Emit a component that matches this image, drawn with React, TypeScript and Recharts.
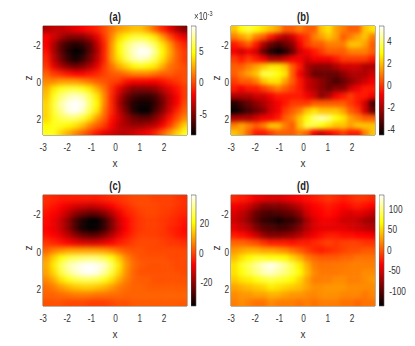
import React from "react";
import {
  Bar,
  BarChart,
  ReferenceArea,
  Scatter,
  ScatterChart,
  XAxis,
  YAxis,
} from "recharts";

const xCols = [-2.85, -2.55, -2.25, -1.95, -1.65, -1.35, -1.05, -0.75, -0.45, -0.15, 0.15, 0.45, 0.75, 1.05, 1.35, 1.65, 1.95, 2.25, 2.55, 2.85];
const zRows = [-2.85, -2.45, -2.05, -1.65, -1.25, -0.85, -0.45, -0.05, 0.35, 0.75, 1.15, 1.55, 1.95, 2.35, 2.75];
const xTicks = [-3, -2, -1, 0, 1, 2];
const zTicks = [-2, 0, 2];

// values in units of 1e-3
const valuesA = [
  [-4, -3.5, -3.5, -3, -2.5, -2, -1.5, -1, 0, 1, 2, 2.5, 3, 3, 2, 0.5, -1, -2.5, -4, -5],
  [-2, -3, -4, -5, -5, -5, -4, -2.5, -0.5, 1.5, 3.5, 4.5, 5.5, 5.5, 5, 4, 2, 0, -1.5, -2.5],
  [-2, -4, -6, -7, -7.5, -7, -6, -3.5, -1, 2, 4.5, 6.5, 7.5, 8, 7.5, 6, 4, 2, 0, -1],
  [-1.5, -4, -6, -7.5, -8.4, -8, -6, -4, -1, 2, 4.5, 6.5, 8, 8.9, 8.9, 7, 4.5, 2.5, 0.5, -0.5],
  [-1, -3.5, -5.5, -7, -8, -7, -5.5, -3.5, -1, 2, 4, 6, 7.5, 8, 7.5, 6, 4, 2, 0.5, -0.5],
  [-0.5, -2.5, -4, -5, -5.5, -5, -4, -2.5, -0.5, 1, 2.5, 3.5, 4.5, 5, 4.5, 4, 2.5, 1, 0.5, 0],
  [0.5, -0.5, -1, -1.5, -2, -2, -1.5, -1, -0.3, 0.3, 0.5, 1, 1.5, 1.5, 1.5, 1, 0.5, 0.5, 0, 0],
  [1.5, 1.5, 2, 2, 2, 1.5, 1, 0.5, 0.2, -0.2, -0.5, -1.5, -2, -2, -2, -2, -1.5, -1, -0.5, 0],
  [2.5, 4, 5, 5.5, 5.5, 5, 4, 2.5, 1, -0.8, -2.5, -4, -5, -5, -5, -4.5, -3.5, -2.5, -1.5, -0.5],
  [3, 5, 6.5, 7.5, 8, 7.5, 6, 4, 1.5, -1, -3.5, -5.5, -6.5, -7, -7, -6.5, -5, -3.5, -2, -0.5],
  [3.5, 5.5, 7.5, 8.5, 8.9, 8.5, 6.5, 4.5, 1.5, -1, -4, -6, -7.5, -8, -8, -7, -5.5, -3.5, -2, 0],
  [3.5, 5.5, 7, 8.5, 8.9, 8, 6, 4, 1, -1, -3.5, -5.5, -7.5, -8.4, -8.4, -6.5, -5, -3, -1, 0.5],
  [3.5, 5, 6, 6.5, 6.5, 5.5, 4, 2, 0.5, -1.5, -3, -4.5, -5.5, -6, -6, -5, -3.5, -1.5, 0, 1.5],
  [4.5, 5, 5, 4.5, 4, 3, 1.5, 0.5, -0.5, -2, -3.5, -4, -4.5, -4.5, -4, -3.5, -2, -0.5, 1.5, 3.5],
  [5, 5, 3.5, 2.5, 1.5, 0.5, -0.5, -1.5, -2.5, -3, -3.5, -3.5, -3, -2.5, -2, -1, 0.5, 2, 3.5, 5],
];

const valuesB = [
  [2, 3, 3.5, 3, 2.5, 2, 1.5, 0.5, 0.5, 1, 0.5, 0.5, 2, 2.5, 1.5, 1, 0.5, 0.5, 2, 2.5],
  [1, 1.5, 2, 1, 0.5, -0.5, -1.5, -2, -1.5, -0.5, 0, 1, 1.5, 2, 1.5, 0.5, 1, 1.5, 2, 1],
  [-0.5, 0, 0.5, -0.5, -2, -3, -3.5, -3, -2.5, -1, 0, 0.5, 0.5, 1, 1, 1, 2, 2, 1.5, 0.5],
  [-1, -1.5, -1, -1.5, -3, -4, -4.5, -4, -3, -1.5, -1, -0.5, 0, 0.5, 0.5, 0.5, 1, 1, 1, 0.5],
  [0, -0.5, 0, -0.5, -1, -2, -2, -1.5, -1, -1, -1.5, -1, -1, -1, -0.5, 0, 0, 0, 0, -0.5],
  [0.5, 0.5, 1, 1.5, 2, 2.5, 2.5, 2, 0.5, -0.5, -2, -2.5, -2.5, -2.5, -2, -1.5, -1.5, -1.5, -2, -2],
  [0.5, 1, 1.5, 2, 3.5, 3.5, 3, 2.5, 0.5, -1, -2, -3, -3, -3, -3, -2.5, -2, -2, -2, -1.5],
  [0, 0.5, 0.5, 1, 2, 2.5, 2.5, 1.5, 0.5, -0.5, -1.5, -2, -2.5, -3, -3.5, -3, -2.5, -2, -1.5, -1],
  [-0.5, -1, -0.5, -0.5, 0, 0.5, 1, 0.5, 0, -0.5, -1.5, -2, -2.5, -3, -2.5, -2.5, -1.5, -1, -0.5, -0.5],
  [-2, -2, -2, -1.5, -1.5, -1, -0.5, -0.5, -0.5, -0.5, -1, -1.5, -2.5, -2, -1, -0.5, 0, -0.5, -0.5, -1],
  [-4, -3.5, -3, -2.5, -2, -1.5, -1, -0.5, 0, 0, 0, 0.5, 0.5, 0.5, 0.5, 0.5, 0, -0.5, -1.5, -3.5],
  [-4.5, -4, -3.5, -3, -2.5, -1.5, -1, 0, 0.5, 1, 2, 2.5, 2, 2, 2, 1.5, 0.5, 0, -1.5, -3],
  [-2, -2, -2, -1.5, -1, -1, -0.5, 0.5, 1, 2, 3, 4, 4.5, 4, 3, 2.5, 1.5, 1, 0.5, 0.5],
  [1, 1.5, 1, 0.5, 1, 2, 2, 1, 0.5, 2, 3.5, 3.5, 3, 2.5, 2, 2, 1.5, 2, 2, 2],
  [2, 1.5, 0.5, -0.5, -0.5, 0, 0.5, 0.5, 0.5, 1, 0.5, -1, -1.5, -1, -0.5, 0, -0.5, -0.5, 1, 2],
];

const valuesC = [
  [-3, -4, -5, -5, -5, -5, -5, -5, -4, -3, -2, -1, 0, 0, 0, -1, -1, -1, -2, -3],
  [-4, -6, -8, -10, -12, -13, -14, -13, -11, -8, -5, -3, -1, 0, 0, 0, -1, -1, -2, -3],
  [-6, -8, -11, -15, -20, -23, -25, -24, -21, -16, -10, -5, -3, -1, 0, 0, -1, -2, -3, -4],
  [-7, -10, -14, -20, -28, -33, -36, -36, -30, -22, -13, -8, -4, -2, -1, -1, -2, -3, -4, -6],
  [-8, -10, -14, -20, -28, -34, -36, -35, -30, -22, -14, -8, -4, -2, -1, -1, -2, -4, -5, -7],
  [-6, -8, -11, -15, -20, -24, -26, -25, -21, -16, -10, -6, -3, -1, -1, -1, -2, -3, -5, -6],
  [-2, -4, -6, -8, -10, -12, -12, -12, -10, -8, -5, -3, -1, 0, 0, 0, -1, -2, -2, -3],
  [3, 6, 8, 10, 10, 10, 10, 10, 9, 7, 4, 2, 1, 1, 0, 0, 0, 0, 0, 0],
  [9, 15, 21, 25, 27, 28, 29, 28, 26, 21, 14, 7, 3, 1, 1, 1, 1, 0, 0, 0],
  [11, 18, 27, 33, 36, 38, 39, 38, 35, 28, 18, 9, 4, 2, 1, 1, 1, 1, 0, 0],
  [10, 16, 25, 31, 35, 38, 39, 37, 32, 25, 16, 8, 3, 1, 1, 1, 1, 1, 1, 0],
  [7, 11, 17, 22, 25, 27, 27, 26, 22, 17, 11, 6, 3, 2, 2, 1, 1, 1, 1, 1],
  [4, 6, 9, 12, 14, 15, 15, 14, 12, 9, 6, 4, 3, 3, 2, 2, 2, 2, 2, 2],
  [3, 3, 4, 5, 6, 6, 6, 5, 5, 4, 4, 3, 3, 3, 3, 3, 3, 3, 3, 3],
  [1, 1, 1, 0, 0, 0, -1, -1, -1, 0, 1, 1, 2, 2, 2, 2, 2, 2, 2, 2],
];

const valuesD = [
  [-20, -25, -30, -40, -45, -50, -50, -45, -40, -35, -30, -25, -20, -15, -20, -25, -20, -15, -15, -20],
  [-40, -45, -55, -70, -85, -85, -85, -80, -70, -60, -45, -35, -30, -25, -30, -35, -30, -25, -30, -35],
  [-50, -60, -75, -95, -105, -110, -105, -100, -95, -80, -55, -40, -35, -30, -35, -45, -50, -45, -50, -60],
  [-55, -65, -80, -100, -115, -120, -130, -120, -115, -100, -70, -50, -40, -40, -45, -55, -55, -60, -70, -75],
  [-45, -55, -65, -85, -100, -105, -110, -110, -100, -85, -65, -50, -45, -45, -45, -45, -50, -55, -60, -65],
  [-25, -30, -40, -55, -75, -85, -85, -80, -75, -65, -50, -40, -30, -25, -25, -30, -30, -35, -35, -40],
  [5, 5, 0, -5, -15, -25, -25, -25, -30, -25, -25, -20, -15, -10, -15, -10, -10, -10, -15, -15],
  [25, 30, 35, 35, 30, 30, 25, 20, 10, 0, -10, -20, -25, -20, -15, -10, -5, -5, 0, 0],
  [40, 55, 65, 75, 75, 70, 70, 65, 50, 35, 15, 5, 0, 0, 0, 5, 5, 10, 10, 10],
  [55, 75, 90, 105, 120, 130, 120, 105, 85, 60, 35, 15, 10, 10, 12, 12, 15, 15, 15, 15],
  [55, 70, 85, 100, 115, 120, 110, 100, 85, 65, 40, 20, 12, 12, 12, 15, 15, 15, 20, 20],
  [45, 55, 60, 70, 80, 85, 80, 75, 65, 50, 30, 15, 15, 15, 20, 20, 15, 15, 20, 25],
  [30, 35, 40, 45, 50, 60, 55, 50, 45, 40, 30, 22, 22, 25, 25, 25, 20, 20, 20, 20],
  [20, 25, 25, 30, 30, 35, 35, 30, 25, 25, 20, 18, 22, 22, 22, 18, 18, 18, 12, 18],
  [15, 20, 15, 10, 10, 20, 15, 15, 15, 10, 15, 10, 15, 15, 15, 10, 10, 5, 10, 10],
];

const barTicksA = [-5, 0, 5];
const barTicksB = [-4, -2, 0, 2, 4];
const barTicksC = [-20, 0, 20];
const barTicksD = [-100, -50, 0, 50, 100];

const FONT = "'Liberation Sans', sans-serif";
const TEXT = "#333";
const tickStyle = { fontSize: 11.5, fontFamily: FONT, fill: TEXT };
const labelStyle = { fontSize: 10, fontFamily: FONT, fill: TEXT };

function hot(t: number) {
  const c = (v: number) => Math.round(255 * Math.max(0, Math.min(1, v)));
  return `rgb(${c(t / 0.375)},${c((t - 0.375) / 0.375)},${c((t - 0.75) / 0.25)})`;
}

function makeCells(values: number[][]) {
  const cells: { x: number; z: number; v: number; col: number; row: number }[] = [];
  zRows.forEach((z, row) => {
    xCols.forEach((x, col) => {
      cells.push({ x, z, v: values[row][col], col, row });
    });
  });
  return cells;
}

function HeatCell(props: any) {
  const { cx, cy, payload, min, max } = props;
  const w = 7.8;
  const h = 7.8;
  // outer cells run past the frame so the blur does not fade at the edges
  const left = payload.col === 0 ? 14 : w / 2;
  const right = payload.col === xCols.length - 1 ? 14 : w / 2;
  const top = payload.row === 0 ? 14 : h / 2;
  const bottom = payload.row === zRows.length - 1 ? 14 : h / 2;
  return (
    <rect
      x={cx - left}
      y={cy - top}
      width={left + right}
      height={top + bottom}
      fill={hot((payload.v - min) / (max - min))}
    />
  );
}

interface PanelProps {
  title: string;
  id: string;
  left: number;
  top: number;
  values: number[][];
  min: number;
  max: number;
  barTicks: number[];
  smooth: boolean;
  plotH: number;
  zDomain: [number, number];
}

function Panel({ title, id, left, top, values, min, max, barTicks, smooth, plotH, zDomain }: PanelProps) {
  const cells = makeCells(values);
  return (
    <div className={smooth ? "heat-smooth" : "heat-rough"} style={{ position: "absolute", left: 0, top: 0 }}>
      <div style={{ position: "absolute", left: left - 35, top: top - 26 }}>
        <ScatterChart
          width={184}
          height={plotH + 26 + 40}
          margin={{ top: 26, right: 5, bottom: 0, left: 0 }}
        >
          <XAxis
            type="number"
            dataKey="x"
            domain={[-3, 2.95]}
            ticks={xTicks}
            interval={0}
            allowDataOverflow
            axisLine={false}
            tickLine={false}
            tickSize={0}
            tickMargin={8}
            tick={tickStyle}
            height={40}
            label={{ value: "x", position: "insideBottom", offset: 8, style: labelStyle }}
          />
          <YAxis
            type="number"
            dataKey="z"
            reversed
            domain={zDomain}
            ticks={zTicks}
            interval={0}
            allowDataOverflow
            axisLine={false}
            tickLine={false}
            tickSize={0}
            tickMargin={1}
            tick={tickStyle}
            width={35}
            label={{ value: "z", angle: -90, position: "insideLeft", offset: 20, style: labelStyle }}
          />
          <Scatter
            data={cells}
            isAnimationActive={false}
            shape={(p: any) => <HeatCell {...p} min={min} max={max} />}
          />
          <ReferenceArea
            x1={-3}
            x2={2.95}
            y1={zDomain[0]}
            y2={zDomain[1]}
            fill="none"
            stroke="#6b6b55"
            strokeWidth={1}
          />
          <text
            x={35 + 72}
            y={21}
            textAnchor="middle"
            className="narrow-text"
            style={{ fontSize: 13, fontFamily: FONT, fontWeight: "bold", fill: "#222" }}
          >
            {title}
          </text>
        </ScatterChart>
      </div>
      <div style={{ position: "absolute", left: left + 148, top: top - 26 }}>
        <BarChart
          width={36}
          height={plotH + 26 + 4}
          data={[{ name: "bar", range: [min, max] }]}
          margin={{ top: 26, right: 0, bottom: 4, left: 0 }}
          barCategoryGap={0}
        >
          <defs>
            <linearGradient id={id} x1="0" y1="0" x2="0" y2="1">
              <stop offset="0" stopColor="#fff" />
              <stop offset="0.25" stopColor="#ff0" />
              <stop offset="0.625" stopColor="#f00" />
              <stop offset="1" stopColor="#000" />
            </linearGradient>
          </defs>
          <XAxis dataKey="name" hide />
          <YAxis
            orientation="right"
            type="number"
            domain={[min, max]}
            ticks={barTicks}
            interval={0}
            axisLine={false}
            tickLine={false}
            tickSize={0}
            tickMargin={2}
            tick={tickStyle}
            width={31}
          />
          <Bar dataKey="range" fill={`url(#${id})`} stroke="#555" strokeWidth={0.6} isAnimationActive={false} />
        </BarChart>
      </div>
    </div>
  );
}

export default function App() {
  return (
    <div style={{ position: "absolute", left: 0, top: 0, width: 415, height: 346, background: "#fff", overflow: "hidden" }}>
      <style>{`
        .heat-smooth .recharts-scatter { filter: blur(2.6px); }
        .heat-rough .recharts-scatter { filter: blur(2px); }
        .recharts-cartesian-axis-tick-value, .narrow-text {
          transform-box: fill-box;
          transform-origin: center;
          transform: scaleX(0.72);
        }
      `}</style>
      <Panel title="(a)" id="hotA" left={43} top={26} values={valuesA} min={-8.4} max={8.9} barTicks={barTicksA} smooth plotH={109} zDomain={[-3.05, 2.85]} />
      <Panel title="(b)" id="hotB" left={231} top={26} values={valuesB} min={-4.55} max={5.35} barTicks={barTicksB} smooth={false} plotH={109} zDomain={[-3.05, 2.85]} />
      <Panel title="(c)" id="hotC" left={43} top={195} values={valuesC} min={-36} max={39} barTicks={barTicksC} smooth plotH={111} zDomain={[-3.05, 2.95]} />
      <Panel title="(d)" id="hotD" left={231} top={195} values={valuesD} min={-137} max={134} barTicks={barTicksD} smooth={false} plotH={111} zDomain={[-3.05, 2.95]} />
      <div style={{ position: "absolute", left: 194, top: 11, fontFamily: FONT, fontSize: 10, color: TEXT, transform: "scaleX(0.8)", transformOrigin: "left" }}>
        ×10<sup style={{ fontSize: 7, verticalAlign: "baseline", position: "relative", top: -4 }}>-3</sup>
      </div>
    </div>
  );
}
